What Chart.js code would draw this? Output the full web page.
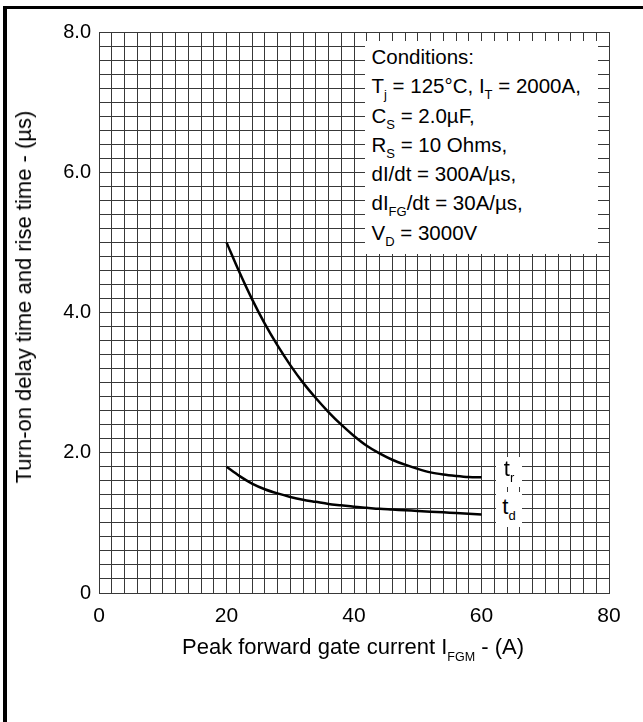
<!DOCTYPE html>
<html>
<head>
<meta charset="utf-8">
<script src="https://cdn.jsdelivr.net/npm/chart.js@4.4.1/dist/chart.umd.min.js"></script>
<style>
  html, body { margin: 0; padding: 0; background: #fff; }
  #wrap { position: relative; width: 643px; height: 722px; font-family: "Liberation Sans", Arial, sans-serif; color: #000; }
  #frameTop { position: absolute; left: 3px; top: 6px; width: 640px; height: 3px; background: #000; }
  #frameLeft { position: absolute; left: 3px; top: 6px; width: 4px; height: 716px; background: #000; }
  .lbl { position: absolute; white-space: nowrap; line-height: 22px; font-size: 22px; }
  sub { line-height: 0; }
  .lbl sub { font-size: 12.5px; vertical-align: -7px; }
  #cond { position: absolute; left: 365px; top: 41px; width: 233px; height: 213px; background: #fff;
          font-size: 20.5px; line-height: 29.3px; box-sizing: border-box; padding: 1px 0 0 6.5px; white-space: nowrap; }
  #cond sub { font-size: 13px; vertical-align: -6px; }
  .tag { position: absolute; background: #fff; width: 26px; font-size: 22px; line-height: 22px; text-align: center; }
  .tag sub { font-size: 13px; vertical-align: -6px; }
</style>
</head>
<body>
<div id="wrap">
  <canvas id="chart" width="643" height="722"></canvas>
  <div id="frameTop"></div>
  <div id="frameLeft"></div>
  <div id="cond">
    Conditions:<br>
    T<sub>j</sub> = 125°C, I<sub>T</sub> = 2000A,<br>
    C<sub>S</sub> = 2.0µF,<br>
    R<sub>S</sub> = 10 Ohms,<br>
    dI/dt = 300A/µs,<br>
    dI<sub>FG</sub>/dt = 30A/µs,<br>
    V<sub>D</sub> = 3000V
  </div>
  <div class="tag" style="left:496px; top:457px; height:30px; padding-top:1px; box-sizing:border-box;">t<sub>r</sub></div>
  <div class="tag" style="left:496px; top:492px; height:35px; padding-top:4px; box-sizing:border-box;">t<sub>d</sub></div>
  <div class="lbl" style="left:353px; top:636px; transform:translateX(-50%);">Peak forward gate current I<sub>FGM</sub> - (A)</div>
  <div class="lbl" style="left:24px; top:297px; transform:translate(-50%,-50%) rotate(-90deg);">Turn-on delay time and rise time - (µs)</div>
</div>
<script>
// peak forward gate current (A) and times (us)
const riseCurrent = [20, 22, 24, 26, 28, 30, 32, 34, 36, 38, 40, 42, 44, 46, 48, 50, 52, 54, 56, 58, 60];
const riseTime = [5.0, 4.58, 4.19, 3.84, 3.53, 3.25, 3.0, 2.78, 2.58, 2.4, 2.24, 2.1, 1.99, 1.9, 1.83, 1.77, 1.72, 1.69, 1.67, 1.655, 1.65];

const delayCurrent = [20, 22, 24, 26, 28, 30, 32, 34, 36, 38, 40, 42, 44, 46, 48, 50, 52, 54, 56, 58, 60];
const delayTime = [1.8, 1.67, 1.56, 1.48, 1.42, 1.37, 1.33, 1.3, 1.27, 1.25, 1.23, 1.215, 1.2, 1.19, 1.18, 1.17, 1.16, 1.15, 1.14, 1.13, 1.12];

const xTicks = [0, 20, 40, 60, 80];
const yTicks = [0, 2, 4, 6, 8];

const gridColor = "#383838";
const isMajor = (v, list) => list.some(t => Math.abs(v - t) < 1e-6);

new Chart(document.getElementById("chart"), {
  type: "line",
  data: {
    datasets: [
      {
        label: "tr",
        data: riseCurrent.map((x, i) => ({ x: x, y: riseTime[i] })),
        borderColor: "#000",
        borderWidth: 2.5,
        pointRadius: 0,
        cubicInterpolationMode: "monotone"
      },
      {
        label: "td",
        data: delayCurrent.map((x, i) => ({ x: x, y: delayTime[i] })),
        borderColor: "#000",
        borderWidth: 2.5,
        pointRadius: 0,
        cubicInterpolationMode: "monotone"
      }
    ]
  },
  options: {
    responsive: false,
    animation: false,
    layout: { padding: { top: 32, right: 34, left: 0, bottom: 0 } },
    plugins: { legend: { display: false }, tooltip: { enabled: false } },
    scales: {
      x: {
        type: "linear",
        min: 0,
        max: 80,
        afterFit: s => { s.height = 129; },
        grid: { color: gridColor, lineWidth: 1, drawTicks: false },
        border: { color: gridColor, width: 1 },
        ticks: {
          stepSize: 2,
          autoSkip: false,
          maxRotation: 0,
          padding: 11,
          color: "#000",
          font: { family: "Liberation Sans", size: 21 },
          callback: v => isMajor(v, xTicks) ? String(Math.round(v)) : ""
        }
      },
      y: {
        min: 0,
        max: 8,
        afterFit: s => { s.width = 99; },
        grid: { color: gridColor, lineWidth: 1, drawTicks: false },
        border: { color: gridColor, width: 1 },
        ticks: {
          stepSize: 0.2,
          autoSkip: false,
          padding: 8,
          color: "#000",
          font: { family: "Liberation Sans", size: 20 },
          callback: v => {
            if (!isMajor(v, yTicks)) return "";
            return Math.abs(v) < 1e-6 ? "0" : v.toFixed(1);
          }
        }
      }
    }
  }
});
</script>
</body>
</html>
